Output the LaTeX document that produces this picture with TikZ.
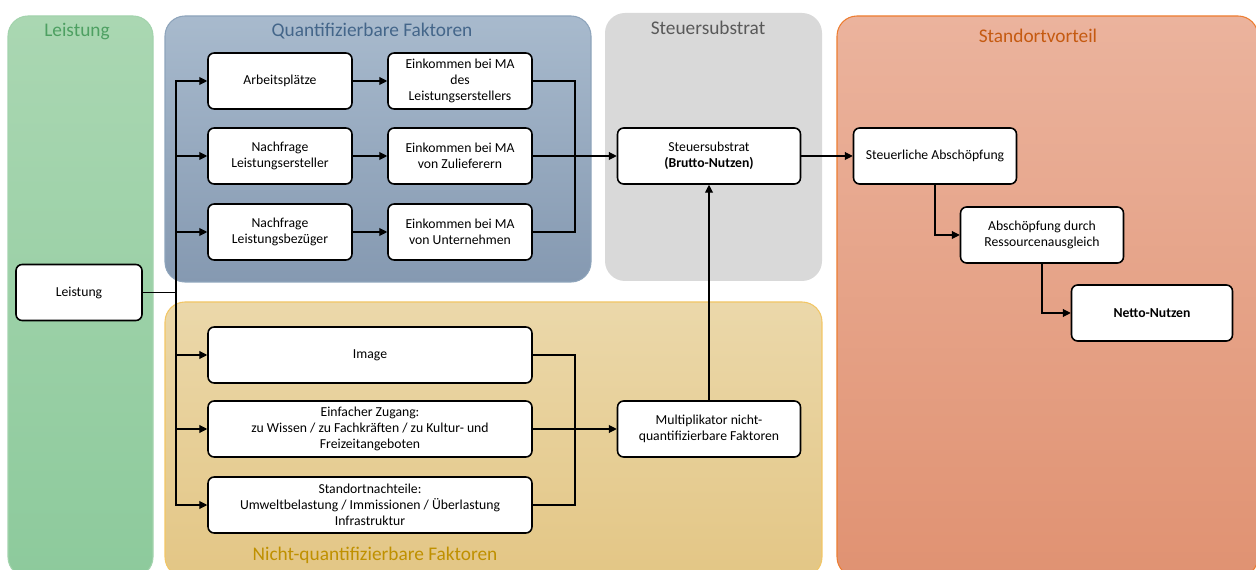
\documentclass[tikz,border=0pt]{standalone}
\usepackage{fontspec}
\setmainfont{Carlito}
\usetikzlibrary{arrows.meta}

\definecolor{grtop}{HTML}{AAD7B2}
\definecolor{grbot}{HTML}{8DCA9C}
\definecolor{grline}{HTML}{A3D3AD}
\definecolor{grtext}{HTML}{4EA062}
\definecolor{bltop}{HTML}{A8BACD}
\definecolor{blbot}{HTML}{8599B1}
\definecolor{blline}{HTML}{8EA4BB}
\definecolor{bltext}{HTML}{44668A}
\definecolor{gyfill}{HTML}{D9D9D9}
\definecolor{gytext}{HTML}{595959}
\definecolor{yetop}{HTML}{EBD8AA}
\definecolor{yebot}{HTML}{E3C685}
\definecolor{yeline}{HTML}{F2C665}
\definecolor{yetext}{HTML}{BF9000}
\definecolor{ortop}{HTML}{EBB39D}
\definecolor{orbot}{HTML}{E09272}
\definecolor{orline}{HTML}{ED7D31}
\definecolor{ortext}{HTML}{C55A11}

\begin{document}
\begin{tikzpicture}[x=0.02cm,y=-0.02cm,
    >={Triangle[length=4.5pt,width=4.5pt]},
    panel/.style={line width=0.6pt,rounded corners=0.4cm},
    ptitle/.style={font=\fontsize{11}{13}\selectfont,inner sep=0pt},
    box/.style={draw,line width=0.9pt,fill=white,rounded corners=3.5pt,align=center,
      minimum height=1.12cm,inner sep=1pt,font=\fontsize{7.8}{9}\selectfont},
    link/.style={line width=0.6pt}]
  \useasboundingbox (0,0) rectangle (1256,570);

  % panels
  \path[panel,top color=grtop,bottom color=grbot,draw=grline] (8,16) rectangle (153,577);
  \path[panel,top color=bltop,bottom color=blbot,draw=blline] (165,16) rectangle (591,282);
  \path[panel,fill=gyfill] (605,13) rectangle (822,281);
  \path[panel,top color=yetop,bottom color=yebot,draw=yeline] (165,302) rectangle (822,577);
  \path[panel,top color=ortop,bottom color=orbot,draw=orline] (837,16) rectangle (1258,577);

  \node[ptitle,text=grtext] (tleist) at (77,32) {Leistung};
  \node[ptitle,text=bltext] (tquant) at (372,31) {Quantifizierbare Faktoren};
  \node[ptitle,text=gytext] (tsteuer) at (708,28) {Steuersubstrat};
  \node[ptitle,text=yetext] (tnicht) at (375,555) {Nicht-quantifizierbare Faktoren};
  \node[ptitle,text=ortext] (tstand) at (1038,36) {Standortvorteil};

  % boxes
  \node[box,minimum width=2.52cm] (leist) at (79,292.5) {Leistung};
  \node[box,minimum width=2.88cm] (arbeit) at (280,81) {Arbeitsplätze};
  \node[box,minimum width=2.88cm] (nachE) at (280,156) {Nachfrage\\Leistungsersteller};
  \node[box,minimum width=2.88cm] (nachB) at (280,232) {Nachfrage\\Leistungsbezüger};
  \node[box,minimum width=2.88cm] (einkL) at (460,81) {Einkommen bei MA\\des\\Leistungserstellers};
  \node[box,minimum width=2.88cm] (einkZ) at (460,156) {Einkommen bei MA\\von Zulieferern};
  \node[box,minimum width=2.88cm] (einkU) at (460,232) {Einkommen bei MA\\von Unternehmen};
  \node[box,minimum width=6.48cm] (image) at (370,355) {Image};
  \node[box,minimum width=6.48cm] (zugang) at (370,429) {Einfacher Zugang:\\zu Wissen / zu Fachkräften / zu Kultur- und\\Freizeitangeboten};
  \node[box,minimum width=6.48cm] (nachteil) at (370,505) {Standortnachteile:\\Umweltbelastung / Immissionen / Überlastung\\Infrastruktur};
  \node[box,minimum width=3.66cm] (brutto) at (709,156) {Steuersubstrat\\\textbf{(Brutto-Nutzen)}};
  \node[box,minimum width=3.66cm] (multi) at (709,429) {Multiplikator nicht-\\quantifizierbare Faktoren};
  \node[box,minimum width=3.26cm] (abschS) at (935,156) {Steuerliche Abschöpfung};
  \node[box,minimum width=3.26cm] (abschR) at (1042,235) {Abschöpfung durch\\Ressourcenausgleich};
  \node[box,minimum width=3.22cm] (netto) at (1152,313) {\textbf{Netto-Nutzen}};

  \coordinate (busL) at (176,292.5);
  \coordinate (busQ) at (575,156);
  \coordinate (busN) at (575,429);

  \begin{scope}[link]
    \draw (leist) -- (busL);
    \draw (einkL) -| (busQ);
    \draw (einkU) -| (busQ);
    \draw (image) -| (busN);
    \draw (nachteil) -| (busN);
  \end{scope}
  \begin{scope}[link,->]
    \draw (busL) |- (arbeit);
    \draw (busL) |- (nachE);
    \draw (busL) |- (nachB);
    \draw (busL) |- (image);
    \draw (busL) |- (zugang);
    \draw (busL) |- (nachteil);
    \draw (arbeit) -- (einkL);
    \draw (nachE) -- (einkZ);
    \draw (nachB) -- (einkU);
    \draw (einkZ) -- (brutto);
    \draw (zugang) -- (multi);
    \draw (multi) -- (brutto);
    \draw (brutto) -- (abschS);
    \draw (abschS) |- (abschR);
    \draw (abschR) |- (netto);
  \end{scope}
\end{tikzpicture}
\end{document}
